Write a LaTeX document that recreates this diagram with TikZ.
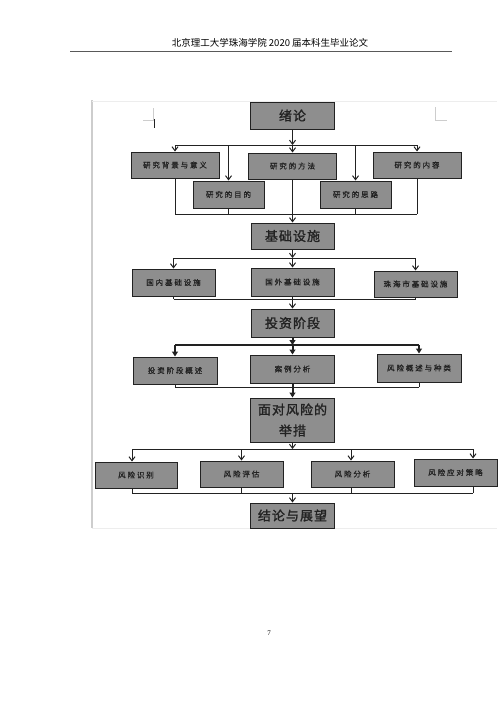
\documentclass[tikz,border=0pt]{standalone}
\usepackage{fontspec}
\setmainfont{Liberation Serif}
\newfontfamily\cjk{Noto Sans CJK SC}
\newfontfamily\cjkwide[LetterSpace=25,FakeBold=1]{Noto Sans CJK SC}
\newfontfamily\cjkbig[LetterSpace=8,FakeBold=1.5]{Noto Sans CJK SC}
\usetikzlibrary{arrows.meta, positioning, calc}
\definecolor{ink}      {HTML}{222222}
\definecolor{boxgray}  {HTML}{8E8E8E}
\definecolor{frame}    {HTML}{CDCDCD}
\definecolor{framesoft}{HTML}{EDEDED}
\tikzset{
  stage/.style   = {draw=ink, line width=1pt, fill=boxgray, inner sep=0pt,
                    text=ink, align=center,
                    font=\cjkbig\fontsize{13}{21}\selectfont},
  part/.style    = {stage, font=\cjkwide\fontsize{7.5}{9}\selectfont},
  wire/.style    = {draw=ink, line width=1pt},
  arr/.style     = {wire, -{Straight Barb[length=4pt,width=6pt]}},
  fatwire/.style = {wire, line width=2pt},
  fatarr/.style  = {fatwire, -{Triangle[length=5pt,width=6pt]}},
}

\begin{document}
\begin{tikzpicture}[x=1pt, y=-1pt]
  \useasboundingbox (0,0) rectangle (500,707);

  % page head
  \node[font=\cjk\fontsize{9.5}{11}\selectfont] (head) at (270,43)
    {北京理工大学珠海学院 2020 届本科生毕业论文};
  \draw[ink!75, line width=0.8pt] (70,51) -- (452,51);

  % screenshot frame and corner marks
  \draw[frame, line width=1.5pt] (92,100) -- (92,528);
  \draw[framesoft, line width=1pt] (92,101) -- (497,101);
  \draw[framesoft] (92,528) -- (497,528);
  \draw[frame, line width=0.6pt] (143,120) -- (153,120) -- (153,108);
  \draw[ink, line width=1pt] (154,119) -- (154,128);
  \draw[frame, line width=0.6pt] (435,107) -- (435,120) -- (447,120);

  % stages
  \node[stage, minimum width=84, minimum height=27] (xulun)  at (292.5,115.5) {绪论};
  \node[stage, minimum width=83, minimum height=26] (jichu)  at (292.5,236)   {基础设施};
  \node[stage, minimum width=83, minimum height=28] (touzi)  at (292.5,323)   {投资阶段};
  \node[stage, minimum width=84, minimum height=44] (cuoshi) at (292.5,420)   {面对风险的\\举措};
  \node[stage, minimum width=84, minimum height=25] (jielun) at (292.5,515.5) {结论与展望};

  % parts of 绪论
  \node[part, minimum width=88, minimum height=26] (beijing) at (175,165)     {研究背景与意义};
  \node[part, minimum width=71, minimum height=27] (mudi)    at (228.5,194.5) {研究的目的};
  \node[part, minimum width=88, minimum height=26] (fangfa)  at (292.5,166)   {研究的方法};
  \node[part, minimum width=71, minimum height=27] (silu)    at (355.5,194.5) {研究的思路};
  \node[part, minimum width=88, minimum height=26] (neirong) at (417,165)     {研究的内容};

  % parts of 基础设施
  \node[part, minimum width=83, minimum height=27] (guonei) at (173.5,282.5) {国内基础设施};
  \node[part, minimum width=83, minimum height=28] (guowai) at (292.5,282)   {国外基础设施};
  \node[part, minimum width=83, minimum height=26] (zhuhai) at (415.5,284)   {珠海市基础设施};

  % parts of 投资阶段
  \node[part, minimum width=84, minimum height=27] (gaishu)   at (175,370.5) {投资阶段概述};
  \node[part, minimum width=84, minimum height=28] (anli)     at (292.5,369) {案例分析};
  \node[part, minimum width=84, minimum height=28] (fengxian) at (419,368)   {风险概述与种类};

  % parts of 举措
  \node[part, minimum width=82, minimum height=26] (shibie) at (136,475)     {风险识别};
  \node[part, minimum width=83, minimum height=26] (pinggu) at (241.5,474)   {风险评估};
  \node[part, minimum width=83, minimum height=26] (fenxi)  at (352.5,474)   {风险分析};
  \node[part, minimum width=83, minimum height=27] (celue)  at (455.5,472.5) {风险应对策略};

  % bus lines
  \coordinate (top1) at (0,145);  \coordinate (bot1) at (0,214);
  \coordinate (top2) at (0,258);  \coordinate (bot2) at (0,299);
  \coordinate (top3) at (0,345);  \coordinate (bot3) at (0,387);
  \coordinate (top4) at (0,449);  \coordinate (bot4) at (0,493);

  % 绪论
  \draw[arr] (xulun) -- (xulun |- top1);
  \draw[arr] (xulun |- top1) -- (fangfa);
  \draw[wire] (beijing.north |- top1) -- (neirong.north |- top1);
  \foreach \n in {beijing, mudi, silu, neirong}
    \draw[arr] (\n.north |- top1) -- (\n.north);
  \foreach \n in {beijing, mudi, silu, neirong}
    \draw[wire] (\n.south) -- (\n.south |- bot1);
  \draw[wire] (beijing.south |- bot1) -- (neirong.south |- bot1);
  \draw[arr] (fangfa) -- (jichu);

  % 基础设施
  \draw[arr] (jichu) -- (jichu |- top2);
  \draw[arr] (jichu |- top2) -- (guowai);
  \draw[wire] (guonei.north |- top2) -- (zhuhai.north |- top2);
  \foreach \n in {guonei, zhuhai}
    \draw[arr] (\n.north |- top2) -- (\n.north);
  \foreach \n in {guonei, zhuhai}
    \draw[wire] (\n.south) -- (\n.south |- bot2);
  \draw[wire] (guonei.south |- bot2) -- (zhuhai.south |- bot2);
  \draw[arr] (guowai) -- (touzi);

  % 投资阶段
  \draw[fatarr] (touzi) -- (touzi |- top3);
  \draw[fatarr] (touzi |- top3) -- (anli);
  \draw[fatwire] (gaishu.north |- top3) -- (fengxian.north |- top3);
  \foreach \n in {gaishu, fengxian}
    \draw[fatarr] (\n.north |- top3) -- (\n.north);
  \foreach \n in {gaishu, fengxian}
    \draw[wire] (\n.south) -- (\n.south |- bot3);
  \draw[wire] (gaishu.south |- bot3) -- (fengxian.south |- bot3);
  \draw[fatarr] (anli) -- (cuoshi);

  % 举措
  \draw[arr] (cuoshi) -- (cuoshi |- top4);
  \foreach \n/\dx in {shibie/-4, pinggu/0, fenxi/-1.5, celue/17.5} {
    \path ([xshift=\dx]\n.north) coordinate (in\n);
    \path ([xshift=\dx]\n.south) coordinate (out\n);
    \draw[arr] (in\n |- top4) -- (in\n);
    \draw[wire] (out\n) -- (out\n |- bot4);
  }
  \draw[wire] (inshibie |- top4) -- (incelue |- top4);
  \draw[wire] (outshibie |- bot4) -- (outcelue |- bot4);
  \draw[arr] (jielun |- bot4) -- (jielun);

  % page number
  \node[font=\fontsize{7}{8}\selectfont] (pageno) at (269,633) {7};

\end{tikzpicture}
\end{document}
